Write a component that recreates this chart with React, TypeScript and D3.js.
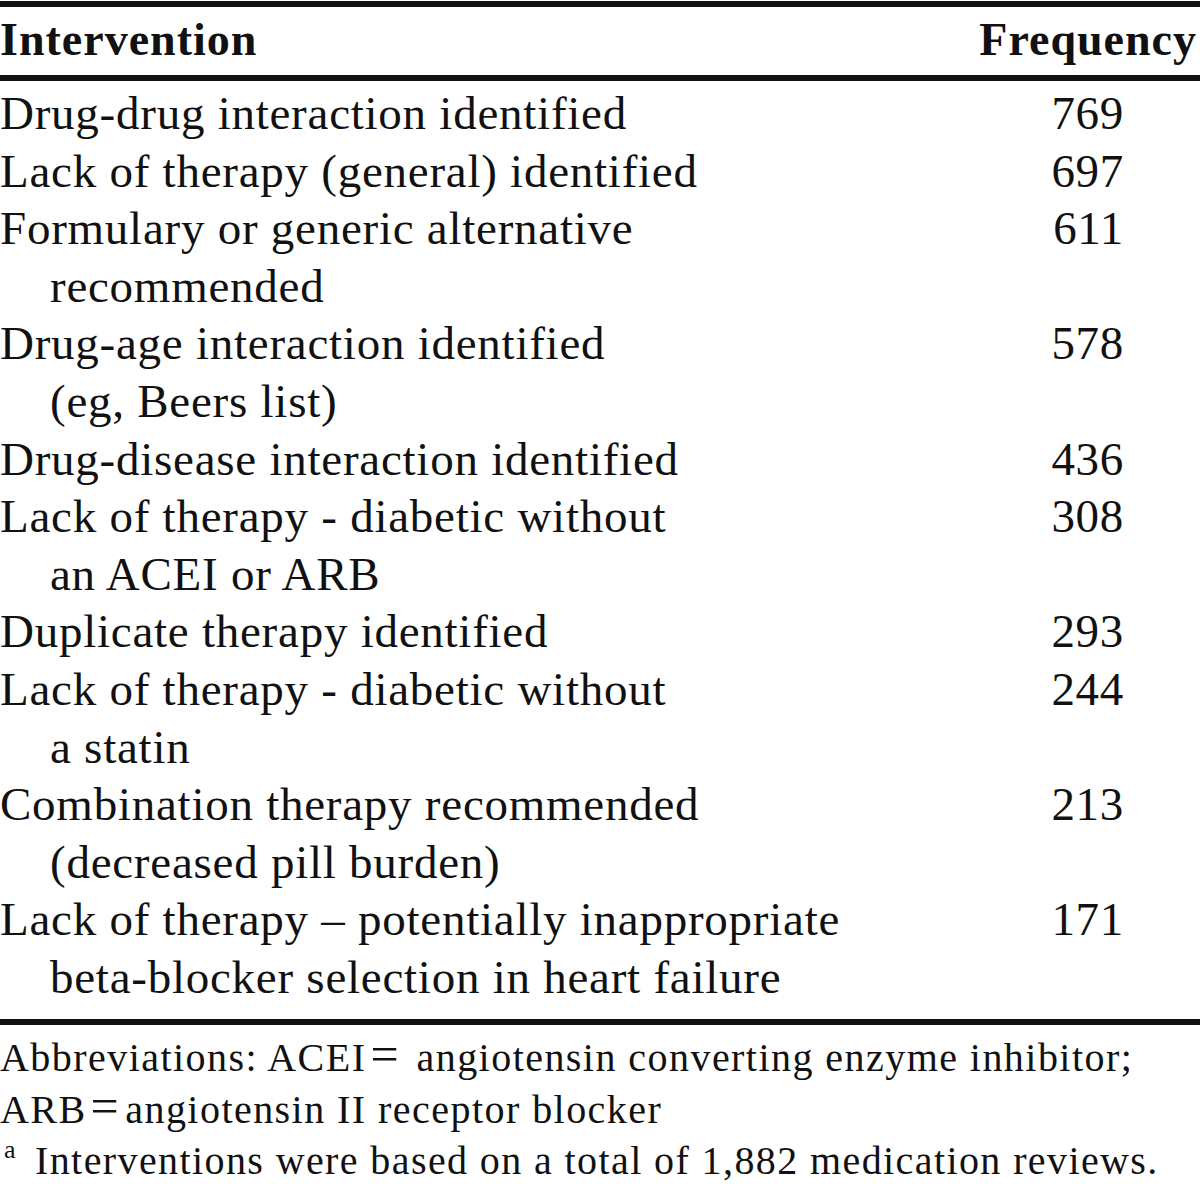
import React from 'react';
import * as d3 from 'd3';

// table content
const headers = ['Intervention', 'Frequency'];
const interventions: string[][] = [
  ['Drug-drug interaction identified'],
  ['Lack of therapy (general) identified'],
  ['Formulary or generic alternative', 'recommended'],
  ['Drug-age interaction identified', '(eg, Beers list)'],
  ['Drug-disease interaction identified'],
  ['Lack of therapy - diabetic without', 'an ACEI or ARB'],
  ['Duplicate therapy identified'],
  ['Lack of therapy - diabetic without', 'a statin'],
  ['Combination therapy recommended', '(decreased pill burden)'],
  ['Lack of therapy \u2013 potentially inappropriate', 'beta-blocker selection in heart failure'],
];
const frequencies = [769, 697, 611, 578, 436, 308, 293, 244, 213, 171];
const footnotes = [
  'Abbreviations: ACEI= angiotensin converting enzyme inhibitor;',
  'ARB=angiotensin II receptor blocker',
];
const noteMark = 'a';
const noteText = 'Interventions were based on a total of 1,882 medication reviews.';

const width = 1200;
const height = 1184;
const font = '"Liberation Serif", "Times New Roman", serif';
const ink = '#111';

// the typeset "=" is a wide math sign, give it some room
function withWideEquals(s: string) {
  const parts = s.split('=');
  return parts.map((p, i) => (
    <React.Fragment key={i}>
      {i > 0 && <tspan dx={4} fontSize={50}>=</tspan>}
      <tspan dx={i > 0 ? 5 : 0}>{p}</tspan>
    </React.Fragment>
  ));
}

export default function App() {
  // each intervention starts on a new line; continuation lines get indented
  let idx = 0;
  const rows = interventions.map((lines, i) => {
    const start = idx;
    idx += lines.length;
    return { lines, start, value: frequencies[i] };
  });
  const totalLines = idx;

  const y = d3.scaleLinear().domain([0, totalLines - 1]).range([129, 993]);
  const noteY = d3.scaleLinear().domain([0, 2]).range([1071, 1174]);

  return (
    <svg
      width={width}
      height={height}
      style={{ position: 'absolute', left: 0, top: 0, background: '#fff' }}
      fontFamily={font}
    >
      <rect width={width} height={height} fill="#fff" />
      <line x1={0} x2={width} y1={4} y2={4} stroke={ink} strokeWidth={6} />
      <text x={0} y={55} fontSize={46} fontWeight="bold" fill={ink} letterSpacing={1}>{headers[0]}</text>
      <text x={1197} y={55} fontSize={46} fontWeight="bold" fill={ink} letterSpacing={1} textAnchor="end">{headers[1]}</text>
      <line x1={0} x2={width} y1={78} y2={78} stroke={ink} strokeWidth={6} />

      {rows.map((r, i) => (
        <g key={i}>
          {r.lines.map((l, j) => (
            <text key={j} x={j === 0 ? 0 : 50} y={y(r.start + j)} fontSize={47} letterSpacing={0.75} fill={ink}>{l}</text>
          ))}
          <text x={1124} y={y(r.start)} fontSize={47} letterSpacing={0.7} fill={ink} textAnchor="end">{r.value}</text>
        </g>
      ))}

      <line x1={0} x2={width} y1={1022} y2={1022} stroke={ink} strokeWidth={6} />

      {footnotes.map((f, i) => (
        <text key={i} x={0} y={noteY(i)} fontSize={40} letterSpacing={1.45} fill={ink}>{withWideEquals(f)}</text>
      ))}
      <text x={4} y={1158} fontSize={26} fill={ink}>{noteMark}</text>
      <text x={35} y={noteY(2)} fontSize={40} letterSpacing={1.4} fill={ink}>{noteText}</text>
    </svg>
  );
}
